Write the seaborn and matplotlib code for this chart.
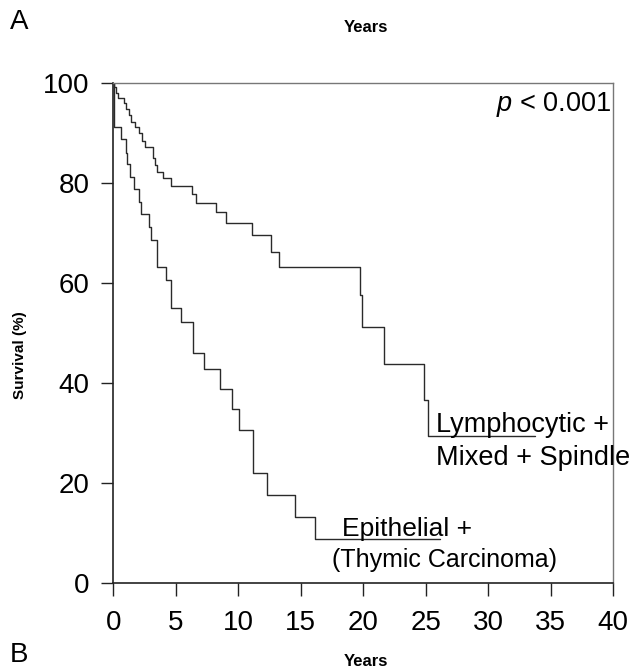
import numpy as np
import pandas as pd
import seaborn as sns
import matplotlib
matplotlib.use("Agg")
import matplotlib.pyplot as plt

sns.set_theme(style="white")
plt.rcParams['font.family'] = ['Liberation Sans', 'DejaVu Sans']
plt.rcParams['text.color'] = 'black'
plt.rcParams['mathtext.fontset'] = 'custom'
plt.rcParams['mathtext.it'] = 'Liberation Sans:italic'
plt.rcParams['mathtext.rm'] = 'Liberation Sans'

# Kaplan-Meier curves (years, survival %)
lymph_years = [0.0, 0.1, 0.22, 0.4, 0.86, 1.02, 1.3, 1.47, 1.74, 2.08, 2.35, 2.54,
               3.2, 3.34, 3.52, 4.0, 4.62, 6.28, 6.6, 8.2, 9.0, 11.13, 12.63, 13.29,
               19.78, 19.89, 21.7, 24.9, 25.22, 33.76]
lymph_surv = [100, 99.3, 98.1, 97.0, 96.0, 94.8, 93.7, 92.3, 91.3, 90.0, 88.5, 87.3,
              85.0, 83.7, 82.3, 81.0, 79.5, 77.8, 76.1, 74.3, 72.1, 69.7, 66.3, 63.3,
              57.7, 51.2, 43.9, 36.7, 29.5, 29.5]

epi_years = [0.0, 0.05, 0.62, 1.04, 1.14, 1.34, 1.68, 2.08, 2.27, 2.88, 3.0, 3.52,
             4.24, 4.64, 5.4, 6.4, 7.3, 8.54, 9.48, 10.09, 11.21, 12.33, 14.55, 16.15, 26.16]
epi_surv = [100, 91.2, 88.8, 86.0, 83.8, 81.3, 78.8, 76.3, 73.9, 71.2, 68.7, 63.3,
            60.6, 55.1, 52.3, 46.1, 42.8, 38.9, 34.9, 30.7, 22.0, 17.6, 13.3, 8.9, 8.9]

x_ticks = [0, 5, 10, 15, 20, 25, 30, 35, 40]
y_ticks = [0, 20, 40, 60, 80, 100]

df = pd.concat([
    pd.DataFrame({"Years": lymph_years, "Survival": lymph_surv, "group": "Lymphocytic + Mixed + Spindle"}),
    pd.DataFrame({"Years": epi_years, "Survival": epi_surv, "group": "Epithelial + (Thymic Carcinoma)"}),
])

fig = plt.figure(figsize=(6.32, 6.72), dpi=100)
ax = fig.add_axes([0.179, 0.132, 0.791, 0.744])

sns.lineplot(data=df, x="Years", y="Survival", units="group", estimator=None,
             drawstyle="steps-post", color="#2a2a2a", linewidth=1.0, ax=ax, legend=False)

ax.set_xlim(0, 40)
ax.set_ylim(0, 100)
ax.set_xticks(x_ticks)
ax.set_yticks(y_ticks)
ax.set_xticklabels([str(t) for t in x_ticks], fontsize=20)
ax.set_yticklabels([str(t) for t in y_ticks], fontsize=20)
ax.tick_params(axis='both', direction='out', length=9, width=1.0, color='#222222',
               bottom=True, left=True, labelcolor='black')
ax.tick_params(axis='x', pad=10)
ax.tick_params(axis='y', pad=8)
ax.set_xlabel("")
ax.set_ylabel("")
for s in ['left', 'bottom']:
    ax.spines[s].set_color('#222222')
    ax.spines[s].set_linewidth(1.2)
for s in ['top', 'right']:
    ax.spines[s].set_color('#777777')
    ax.spines[s].set_linewidth(1.0)

ax.text(39.9, 95.7, r"$p$ < 0.001", ha='right', va='center', fontsize=19.5, color='black')
ax.text(25.8, 30.3, "Lymphocytic +", ha='left', va='baseline', fontsize=19.5, color='black')
ax.text(25.8, 23.6, "Mixed + Spindle", ha='left', va='baseline', fontsize=19.5, color='black')
ax.text(18.3, 9.5, "Epithelial +", ha='left', va='baseline', fontsize=19, color='black')
ax.text(17.5, 3.2, "(Thymic Carcinoma)", ha='left', va='baseline', fontsize=18, color='black')

fig.text(20 / 632, 1 - 355 / 672, "Survival (%)", rotation=90, ha='center', va='center',
         fontsize=11, fontweight='bold', color='black')
fig.text(366 / 632, 1 - 28 / 672, "Years", ha='center', va='center', fontsize=12,
         fontweight='bold', color='black')
fig.text(366 / 632, 1 - 661 / 672, "Years", ha='center', va='center', fontsize=12,
         fontweight='bold', color='black')
fig.text(10 / 632, 1 - 22 / 672, "A", ha='left', va='center', fontsize=20, color='black')
fig.text(10 / 632, 1 - 655 / 672, "B", ha='left', va='center', fontsize=20, color='black')

fig.savefig("out.png", dpi=100)
